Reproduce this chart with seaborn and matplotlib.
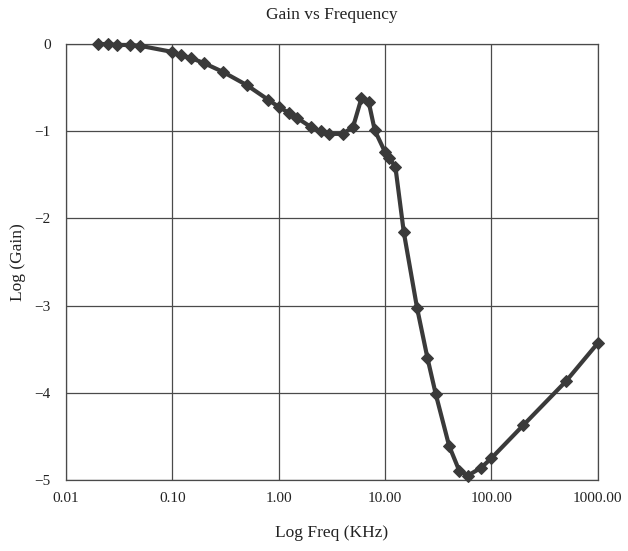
import seaborn as sns
import matplotlib.pyplot as plt
import pandas as pd
from matplotlib.ticker import FixedLocator, NullLocator

# ---------------- DATA ---------------- #

freq_khz = [0.02, 0.025, 0.03, 0.04, 0.05, 0.1, 0.12, 0.15, 0.2, 0.3, 0.5,
            0.8, 1.0, 1.25, 1.5, 2.0, 2.5, 3.0, 4.0, 5.0, 6.0, 7.0, 8.0,
            10.0, 11.0, 12.5, 15.0, 20.0, 25.0, 30.0, 40.0, 50.0, 60.0,
            80.0, 100.0, 200.0, 500.0, 1000.0]
log_gain = [0.0, 0.0, -0.01, -0.01, -0.02, -0.09, -0.13, -0.16, -0.22,
            -0.32, -0.47, -0.64, -0.72, -0.79, -0.85, -0.95, -1.0, -1.03,
            -1.03, -0.95, -0.62, -0.66, -0.99, -1.24, -1.31, -1.41, -2.16,
            -3.03, -3.6, -4.02, -4.61, -4.9, -4.95, -4.86, -4.75, -4.37,
            -3.87, -3.43]

x_ticks = [0.01, 0.1, 1, 10, 100, 1000]
x_tick_labels = ["0.01", "0.10", "1.00", "10.00", "100.00", "1000.00"]
y_ticks = [0, -1, -2, -3, -4, -5]
y_tick_labels = ["0", "\u22121", "\u22122", "\u22123", "\u22124", "\u22125"]

df = pd.DataFrame({"freq": freq_khz, "gain": log_gain})

# ---------------- STYLE ---------------- #

sns.set_style("white")
plt.rcParams["font.family"] = ["Liberation Serif", "DejaVu Serif"]

line_color = "#3a3a3a"
grid_color = "#4a4a4a"

fig = plt.figure(figsize=(6.28, 5.51), dpi=100)
ax = fig.add_axes([0.105, 0.129, 0.847, 0.791])

ax.set_xscale("log")

sns.lineplot(
    data=df, x="freq", y="gain", ax=ax,
    color=line_color, linewidth=3.0,
    marker="D", markersize=5.8, markeredgecolor=line_color,
    clip_on=False, zorder=5,
)

ax.set_xlim(0.01, 1000)
ax.set_ylim(-5, 0)

ax.xaxis.set_major_locator(FixedLocator(x_ticks))
ax.xaxis.set_minor_locator(NullLocator())
ax.set_xticklabels(x_tick_labels)
ax.set_yticks(y_ticks)
ax.set_yticklabels(y_tick_labels)

ax.tick_params(axis="x", length=0, pad=9, labelsize=11, colors="#222222")
ax.tick_params(axis="y", length=0, pad=11, labelsize=11, colors="#222222")

ax.grid(True, color=grid_color, linewidth=0.9)
for spine in ax.spines.values():
    spine.set_color(grid_color)
    spine.set_linewidth(0.9)

ax.set_title("Gain vs Frequency", fontsize=12.5, pad=18, color="#222222")
ax.set_xlabel("Log Freq (KHz)", fontsize=12.5, labelpad=14, color="#222222")
ax.set_ylabel("Log (Gain)", fontsize=12.5, labelpad=6, color="#222222")

fig.savefig("out.png", dpi=100)
